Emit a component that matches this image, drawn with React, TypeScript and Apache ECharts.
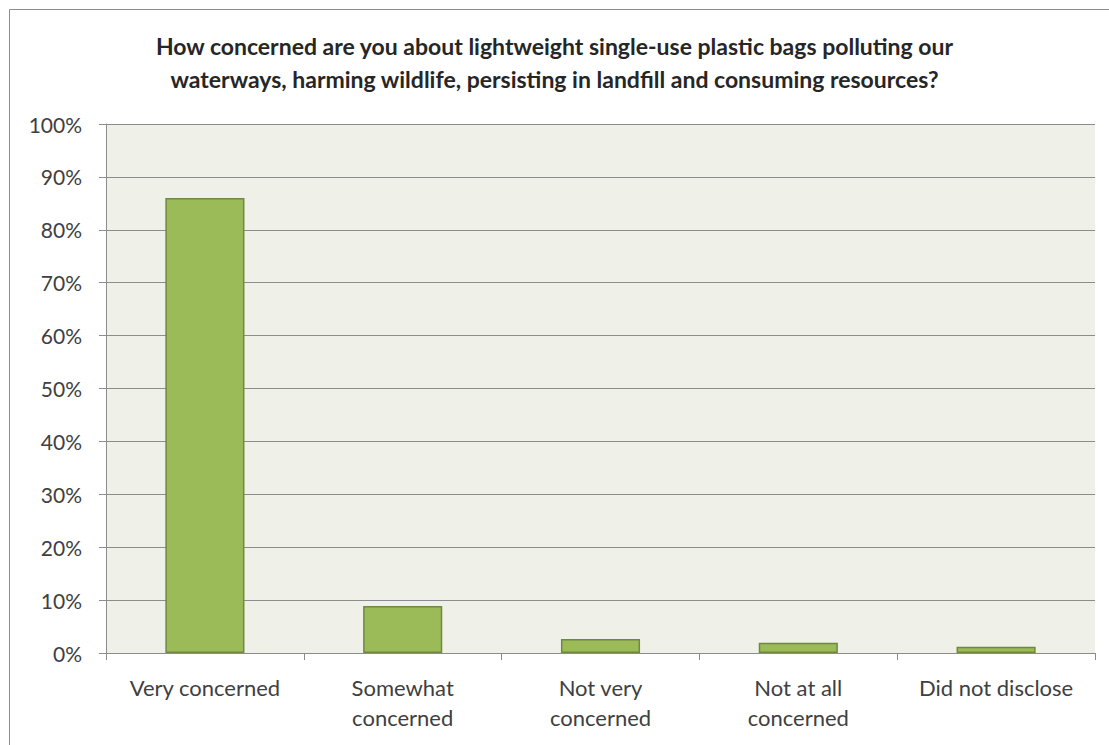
import React, { useEffect, useRef } from "react";
import * as echarts from "echarts";

const titleLines = [
  "How concerned are you about lightweight single-use plastic bags polluting our",
  "waterways, harming wildlife, persisting in landfill and consuming resources?",
];
const categories = [
  "Very concerned",
  "Somewhat\nconcerned",
  "Not very\nconcerned",
  "Not at all\nconcerned",
  "Did not disclose",
];
const values = [86.0, 8.9, 2.65, 1.95, 1.2];
const yMin = 0;
const yMax = 100;
const yInterval = 10;

const FONT = "Lato, 'Open Sans', sans-serif";

export default function App() {
  const ref = useRef<HTMLDivElement>(null);
  useEffect(() => {
    if (!ref.current) return;
    const chart = echarts.init(ref.current, undefined, { renderer: "svg" });
    chart.setOption({
      animation: false,
      backgroundColor: "#ffffff",
      title: {
        text: titleLines.join("\n"),
        left: "center",
        top: 24,
        textStyle: {
          fontFamily: FONT,
          fontSize: 23,
          fontWeight: "bold",
          color: "#262626",
          lineHeight: 33,
        },
      },
      graphic: [
        {
          type: "rect",
          shape: { x: 9.5, y: 9.5, width: 1120, height: 760 },
          style: { fill: "none", stroke: "#8c8c8c", lineWidth: 1 },
          silent: true,
        },
      ],
      grid: {
        left: 106,
        right: 14,
        top: 124,
        bottom: 92,
        show: true,
        backgroundColor: "#eff1e9",
        borderWidth: 0,
      },
      xAxis: {
        type: "category",
        data: categories,
        axisLine: { show: true, lineStyle: { color: "#8c8c8c", width: 1 } },
        axisTick: { show: true, length: 7, alignWithLabel: false, lineStyle: { color: "#8c8c8c" } },
        axisLabel: {
          interval: 0,
          margin: 19,
          fontFamily: FONT,
          fontSize: 22,
          color: "#404040",
          lineHeight: 30,
        },
        splitLine: { show: false },
      },
      yAxis: {
        type: "value",
        min: yMin,
        max: yMax,
        interval: yInterval,
        axisLine: { show: true, lineStyle: { color: "#8c8c8c", width: 1 } },
        axisTick: { show: true, length: 7, lineStyle: { color: "#8c8c8c" } },
        axisLabel: {
          formatter: "{value}%",
          margin: 24,
          fontFamily: FONT,
          fontSize: 21,
          color: "#404040",
        },
        splitLine: { show: true, lineStyle: { color: "#8c8c8c", width: 1 } },
      },
      series: [
        {
          type: "bar",
          data: values,
          barWidth: "40%",
          itemStyle: {
            color: "#9bbb59",
            borderColor: "#71893f",
            borderWidth: 1.5,
          },
        },
      ],
    });
    return () => chart.dispose();
  }, []);
  return (
    <div
      ref={ref}
      style={{ position: "fixed", left: 0, top: 0, width: 1109, height: 745 }}
    />
  );
}
